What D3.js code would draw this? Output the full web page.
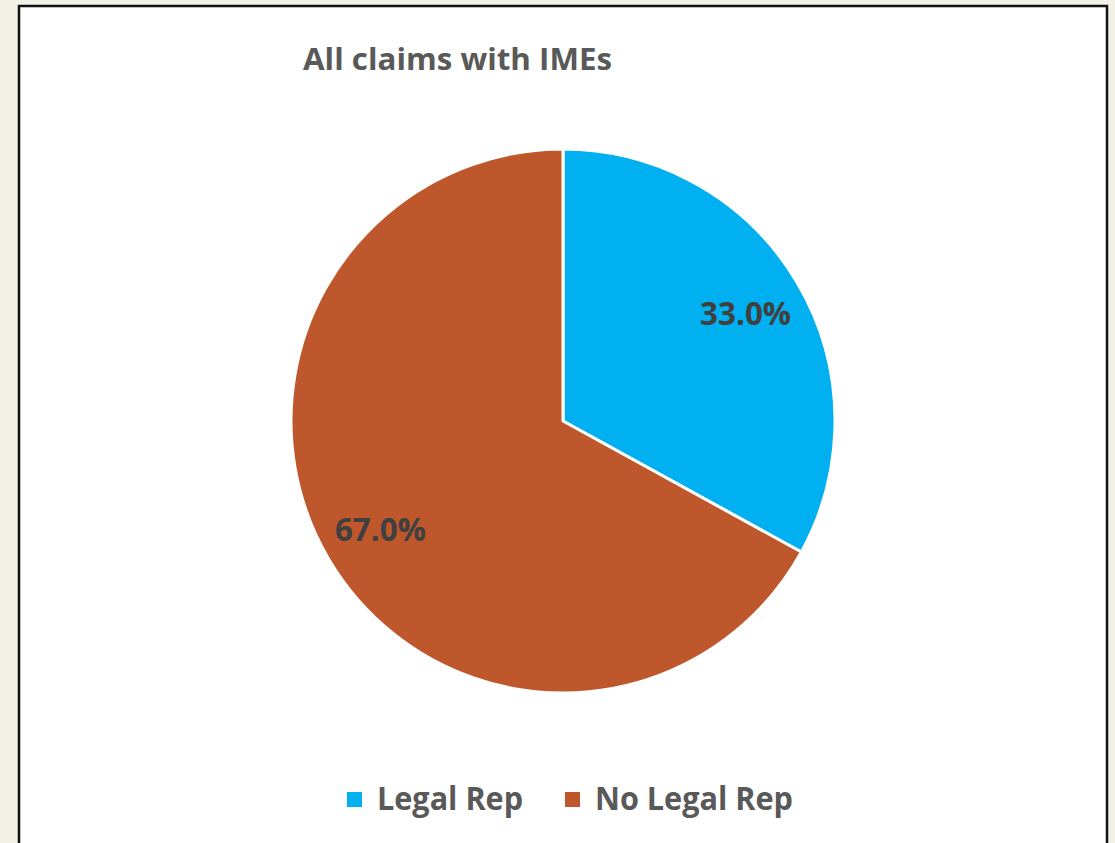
<!DOCTYPE html>
<html>
<head>
<meta charset="utf-8">
<script src="https://cdn.jsdelivr.net/npm/d3@7"></script>
<style>
  html, body { margin: 0; padding: 0; background: #f2f1e7; }
  svg { display: block; }
</style>
</head>
<body>
<svg id="chart"></svg>
<script>
var categories = ["Legal Rep", "No Legal Rep"];
var shares = [33.0, 67.0];
var colours = ["#00b0f0", "#be582c"];

var settings = { width: 1115, height: 843 };

var svg = d3.select("#chart")
    .attr("width", settings.width)
    .attr("height", settings.height);

// chart area with black frame (bottom edge runs off the page)
svg.append("rect")
    .attr("x", 19).attr("y", 6)
    .attr("width", 1088).attr("height", 860)
    .attr("fill", "#ffffff")
    .attr("stroke", "#111111")
    .attr("stroke-width", 2.5);

var font = "'Open Sans', sans-serif";

svg.append("text")
    .attr("x", 303).attr("y", 70)
    .attr("font-family", font)
    .attr("font-weight", "bold")
    .attr("font-size", 31)
    .attr("fill", "#595959")
    .attr("textLength", 309)
    .attr("lengthAdjust", "spacingAndGlyphs")
    .text("All claims with IMEs");

var cx = 563, cy = 421, radius = 272;

var pie = d3.pie().sort(null).value(function (d) { return d; });
var arcs = pie(shares);
var arc = d3.arc().innerRadius(0).outerRadius(radius);

var g = svg.append("g").attr("transform", "translate(" + cx + "," + cy + ")");

g.selectAll("path.slice")
    .data(arcs)
    .enter()
    .append("path")
    .attr("class", "slice")
    .attr("d", arc)
    .attr("fill", function (d, i) { return colours[i]; })
    .attr("stroke", "#ffffff")
    .attr("stroke-width", 3)
    .attr("stroke-linejoin", "round");

// data labels
var labelArc = d3.arc().innerRadius(radius * 0.78).outerRadius(radius * 0.78);
g.selectAll("text.label")
    .data(arcs)
    .enter()
    .append("text")
    .attr("class", "label")
    .attr("transform", function (d) {
        var c = labelArc.centroid(d);
        return "translate(" + c[0] + "," + c[1] + ")";
    })
    .attr("text-anchor", "middle")
    .attr("dy", 12)
    .attr("font-family", font)
    .attr("font-weight", "bold")
    .attr("font-size", 33)
    .attr("fill", "#404040")
    .attr("textLength", 91)
    .attr("lengthAdjust", "spacingAndGlyphs")
    .text(function (d) { return d.data.toFixed(1) + "%"; });

// legend
var legendX = [347, 565];
var legendW = [146, 198];
var legend = svg.selectAll("g.legend")
    .data(categories)
    .enter()
    .append("g")
    .attr("class", "legend")
    .attr("transform", function (d, i) { return "translate(" + legendX[i] + ",792)"; });

legend.append("rect")
    .attr("width", 15).attr("height", 15)
    .attr("fill", function (d, i) { return colours[i]; });

legend.append("text")
    .attr("x", 30).attr("y", 18)
    .attr("font-family", font)
    .attr("font-weight", "bold")
    .attr("font-size", 33)
    .attr("fill", "#595959")
    .attr("textLength", function (d, i) { return legendW[i]; })
    .attr("lengthAdjust", "spacingAndGlyphs")
    .text(function (d) { return d; });
</script>
</body>
</html>
